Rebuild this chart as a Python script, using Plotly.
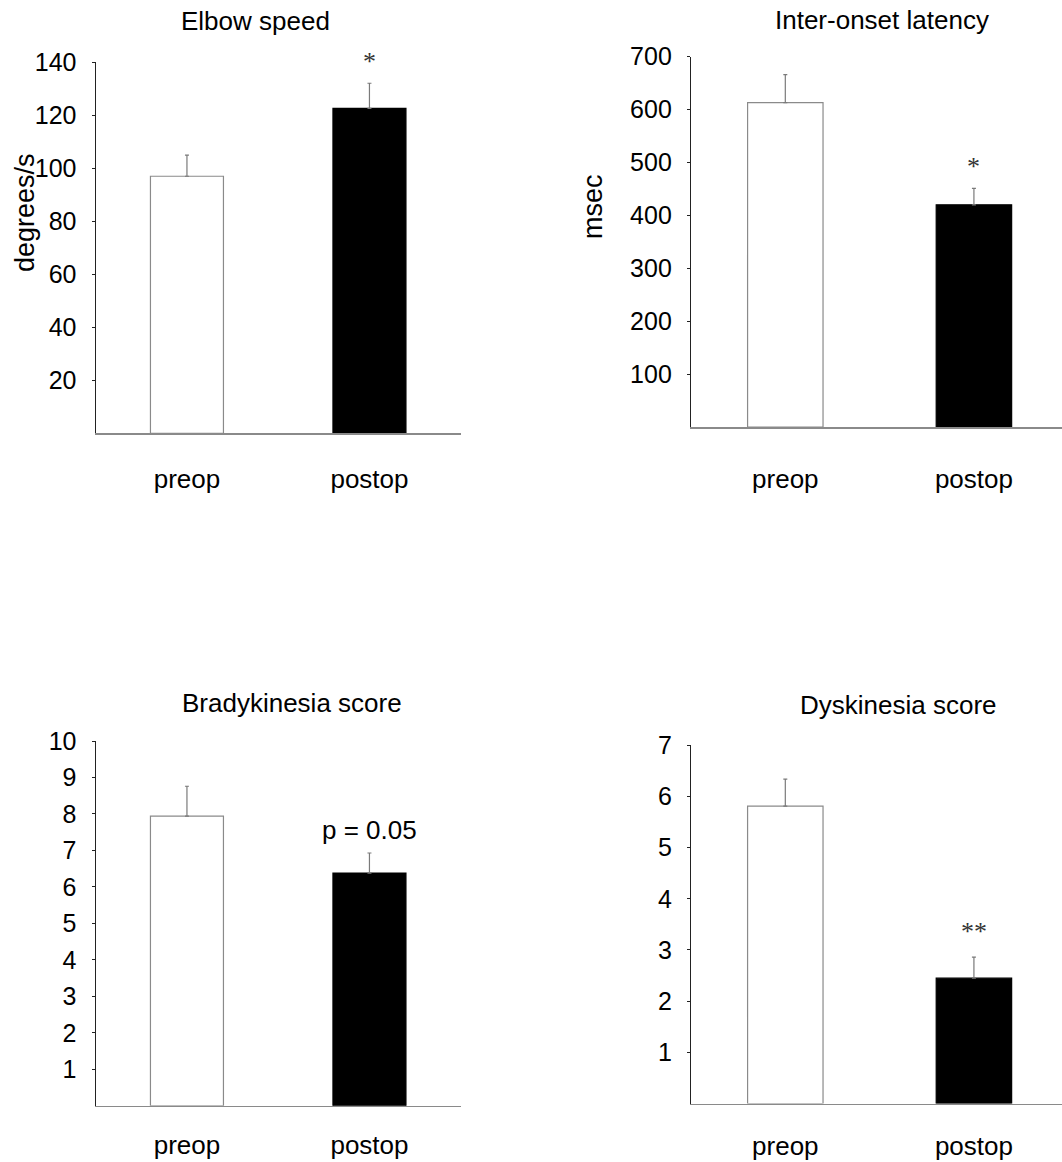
import plotly.graph_objects as go

# ---------------- data ----------------
categories = ["preop", "postop"]
titles = ["Elbow speed", "Inter-onset latency", "Bradykinesia score", "Dyskinesia score"]
y_titles = ["degrees/s", "msec", "", ""]
preop_mean = [97, 613, 7.94, 5.81]
postop_mean = [122.6, 420, 6.38, 2.45]
preop_err = [8, 53, 0.82, 0.53]
postop_err = [9.5, 31, 0.55, 0.41]
y_max = [140, 700, 10, 7]
y_ticks = [
    [20, 40, 60, 80, 100, 120, 140],
    [100, 200, 300, 400, 500, 600, 700],
    [1, 2, 3, 4, 5, 6, 7, 8, 9, 10],
    [1, 2, 3, 4, 5, 6, 7],
]
sig_labels = ["*", "*", "p = 0.05", "**"]

# ---------------- layout geometry (pixels) ----------------
W, H = 1062, 1162
# (x_left, x_right, y_top, y_bottom, x_range_max, xlabel_standoff)
geom = [
    (95.7, 460.7, 62.3, 433.3, 1.5, 22),
    (691.0, 1062.0, 56.7, 427.0, 1.467, 28),
    (95.7, 460.7, 741.0, 1105.8, 1.5, 15),
    (691.0, 1062.0, 745.3, 1103.5, 1.467, 19),
]
title_pos = [(255, 20.7), (881.7, 20), (291.7, 702.7), (898, 705)]
ytitle_pos = [(25, 213), (593, 207), None, None]
sig_shift = [22, 22, 23, 26]

FONT = "Arial, Liberation Sans, sans-serif"
SERIF = "Times New Roman, Liberation Serif, serif"

fig = go.Figure()
layout = dict(
    width=W, height=H,
    margin=dict(l=0, r=0, t=0, b=0, autoexpand=False),
    paper_bgcolor="white", plot_bgcolor="white",
    showlegend=False,
    font=dict(family=FONT, size=25, color="black"),
    annotations=[],
)

for i in range(4):
    xl, xr, yt, yb, xmax, standoff = geom[i]
    sfx = "" if i == 0 else str(i + 1)
    xa, ya = "x" + sfx, "y" + sfx
    fig.add_trace(go.Bar(
        x=categories,
        y=[preop_mean[i], postop_mean[i]],
        width=0.4,
        marker=dict(color=["white", "black"],
                    line=dict(color=["#8a8a8a", "black"], width=1.2)),
        error_y=dict(type="data", symmetric=False,
                     array=[preop_err[i], postop_err[i]],
                     arrayminus=[0, 0],
                     color="#7a7a7a", thickness=1.2, width=2),
        xaxis=xa, yaxis=ya,
        hoverinfo="skip",
    ))
    layout["xaxis" + sfx] = dict(
        domain=[xl / W, xr / W],
        anchor=ya,
        range=[-0.5, xmax],
        showline=True, linecolor="#8a8a8a", linewidth=1.5,
        ticks="", showgrid=False, zeroline=False,
        tickfont=dict(family=FONT, size=26, color="black"),
        ticklabelstandoff=standoff,
        automargin=False,
        fixedrange=True,
    )
    layout["yaxis" + sfx] = dict(
        domain=[1 - yb / H, 1 - yt / H],
        anchor=xa,
        range=[0, y_max[i]],
        tickvals=y_ticks[i],
        ticktext=[str(v) for v in y_ticks[i]],
        showline=True, linecolor="#222222", linewidth=1.2,
        ticks="outside", ticklen=3, tickcolor="#222222", tickwidth=1,
        showgrid=False, zeroline=False,
        tickfont=dict(family=FONT, size=25, color="black"),
        ticklabelstandoff=10,
        automargin=False,
        fixedrange=True,
    )
    tx, ty = title_pos[i]
    layout["annotations"].append(dict(
        text=titles[i], x=tx / W, y=1 - ty / H, xref="paper", yref="paper",
        xanchor="center", yanchor="middle", showarrow=False,
        font=dict(family=FONT, size=26, color="black"),
    ))
    if ytitle_pos[i] is not None:
        px, py = ytitle_pos[i]
        layout["annotations"].append(dict(
            text=y_titles[i], x=px / W, y=1 - py / H, xref="paper", yref="paper",
            xanchor="center", yanchor="middle", showarrow=False, textangle=-90,
            font=dict(family=FONT, size=27, color="black"),
        ))
    is_p = sig_labels[i].startswith("p")
    layout["annotations"].append(dict(
        text=sig_labels[i], x=categories[1], y=postop_mean[i] + postop_err[i],
        xref=xa, yref=ya, xanchor="center", yanchor="middle",
        yshift=sig_shift[i], showarrow=False,
        font=dict(family=FONT if is_p else SERIF,
                  size=26 if is_p else 26,
                  color="black" if is_p else "#333333"),
    ))

fig.update_layout(**layout)
fig.write_html(
    "out.html",
    config={"displayModeBar": False, "staticPlot": True},
    post_script="document.body.style.margin='0';document.body.style.overflow='hidden';",
)
